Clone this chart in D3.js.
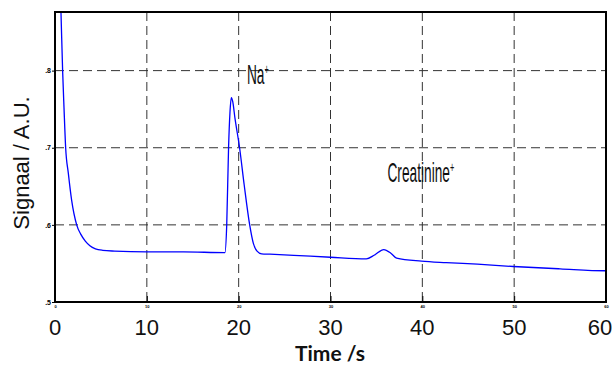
<!DOCTYPE html>
<html>
<head>
<meta charset="utf-8">
<script src="https://cdn.jsdelivr.net/npm/d3@7"></script>
<style>
  body { margin: 0; background: #fff; }
  svg { display: block; }
</style>
</head>
<body>
<svg id="chart" width="614" height="368"></svg>
<script>
// signal trace (time in s, signal in A.U.)
const time = [0, 0.05, 0.3, 0.65, 0.83, 0.98, 1.16, 1.45, 1.81, 2.36, 2.8, 3.3, 3.8, 4.4, 5.2, 6.5, 10, 14, 18.5,
  18.7, 18.9, 19.05, 19.2, 19.35, 19.6, 20.1, 20.6, 21.2, 21.6, 22.0, 22.5, 23.4, 26, 30, 33.9,
  34.8, 35.8, 36.6, 37.2, 39.9, 42.6, 46, 49.9, 55, 59.9, 60];
const signal = [0.79, 0.95, 1.0, 0.876, 0.8, 0.752, 0.7, 0.667, 0.632, 0.6, 0.588, 0.579, 0.573, 0.569, 0.567, 0.566, 0.565, 0.565, 0.564,
  0.60, 0.70, 0.745, 0.765, 0.76, 0.738, 0.70, 0.652, 0.60, 0.576, 0.566, 0.5625, 0.562, 0.5605, 0.558, 0.556,
  0.561, 0.568, 0.563, 0.557, 0.553, 0.551, 0.549, 0.546, 0.543, 0.5405, 0.5405];

const xTicks = [0, 10, 20, 30, 40, 50, 60];
const yTicks = [0.5, 0.6, 0.7, 0.8];
const yTickLabels = [".5", ".6", ".7", ".8"];

const peakNames = ["Na", "Creatinine"];
const peakTime = [20.9, 36.2];
const peakSignal = [0.783, 0.655];

const svg = d3.select("#chart");
const mLeft = 55, mRight = 606, mTop = 12, mBottom = 302;

const x = d3.scaleLinear().domain([0, 60]).range([mLeft, mRight]);
const y = d3.scaleLinear().domain([0.5, 0.876]).range([mBottom, mTop]);

// dashed grid
const grid = svg.append("g").attr("stroke", "#333").attr("stroke-width", 1).attr("stroke-dasharray", "9,5");
grid.selectAll("line.gx")
  .data(xTicks.slice(1, -1))
  .enter().append("line")
  .attr("x1", d => x(d)).attr("x2", d => x(d))
  .attr("y1", mTop).attr("y2", mBottom);
grid.selectAll("line.gy")
  .data(yTicks.slice(1))
  .enter().append("line")
  .attr("x1", mLeft).attr("x2", mRight)
  .attr("y1", d => y(d)).attr("y2", d => y(d));

// axes with the tiny matlab tick labels
const xAxis = svg.append("g")
  .attr("transform", `translate(0,${mBottom})`)
  .call(d3.axisBottom(x).tickValues(xTicks).tickSizeInner(-6).tickSizeOuter(0).tickPadding(3));
xAxis.select(".domain").remove();
xAxis.selectAll("text").attr("font-size", 4).attr("font-weight", "bold").attr("font-family", "Liberation Sans, Arial");

const yAxis = svg.append("g")
  .attr("transform", `translate(${mLeft},0)`)
  .call(d3.axisLeft(y).tickValues(yTicks).tickFormat((d, i) => yTickLabels[i]).tickSizeInner(3).tickSizeOuter(0).tickPadding(1));
yAxis.select(".domain").remove();
yAxis.selectAll("text").attr("font-size", 7).attr("font-weight", "bold").attr("font-family", "Liberation Sans, Arial");

// the trace
svg.append("clipPath").attr("id", "plotclip")
  .append("rect").attr("x", mLeft - 3).attr("y", mTop).attr("width", mRight - mLeft + 3).attr("height", mBottom - mTop);

const line = d3.line()
  .curve(d3.curveMonotoneX)
  .x((d, i) => x(time[i]))
  .y(d => y(d));

svg.append("path")
  .datum(signal)
  .attr("clip-path", "url(#plotclip)")
  .attr("fill", "none")
  .attr("stroke", "#0000ff")
  .attr("stroke-width", 1.3)
  .attr("d", line);

// frame
svg.append("rect")
  .attr("x", mLeft).attr("y", mTop)
  .attr("width", mRight - mLeft).attr("height", mBottom - mTop)
  .attr("fill", "none").attr("stroke", "#000").attr("stroke-width", 2);

// peak labels (narrow, stretched text like the original)
const lab = svg.selectAll("g.peak")
  .data(peakNames)
  .enter().append("g")
  .attr("class", "peak")
  .attr("transform", (d, i) => `translate(${x(peakTime[i])},${y(peakSignal[i])})`);
lab.append("text")
  .attr("transform", "scale(0.49,1)")
  .attr("font-family", "Liberation Sans, Arial")
  .attr("font-size", 28)
  .attr("fill", "#111")
  .text(d => d)
  .append("tspan")
  .attr("font-size", 15)
  .attr("dy", -10)
  .text("+");

// big tick numbers
svg.selectAll("text.big")
  .data(xTicks)
  .enter().append("text")
  .attr("class", "big")
  .attr("x", d => Math.min(x(d), 600))
  .attr("y", 335)
  .attr("text-anchor", "middle")
  .attr("font-family", "Liberation Sans, Arial")
  .attr("font-size", 22)
  .attr("fill", "#111")
  .text(d => d);

svg.append("text")
  .attr("x", 330).attr("y", 361)
  .attr("text-anchor", "middle")
  .attr("font-family", "Lato, Carlito, sans-serif")
  .attr("font-weight", "bold")
  .attr("font-size", 21)
  .attr("fill", "#111")
  .text("Time /s");

svg.append("text")
  .attr("transform", "translate(29,163) rotate(-90)")
  .attr("text-anchor", "middle")
  .attr("font-family", "Liberation Sans, Arial")
  .attr("font-size", 22)
  .attr("fill", "#111")
  .text("Signaal / A.U.");
</script>
</body>
</html>
